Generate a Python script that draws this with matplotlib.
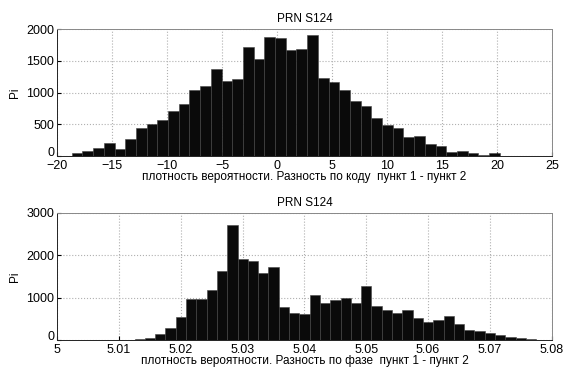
import numpy as np
import matplotlib.pyplot as plt
import matplotlib.transforms as mtransforms

# code difference, 40 bins
code_left = -18.66
code_width = 0.973
code_counts = [53, 79, 132, 210, 105, 263, 442, 500, 563, 710,
               816, 1047, 1100, 1368, 1179, 1210, 1721, 1537, 1879, 1868,
               1668, 1684, 1905, 1237, 1168, 1047, 863, 784, 605, 495,
               442, 295, 310, 195, 158, 58, 79, 42, 21, 42]

# phase difference, 40 bins
phase_left = 5.01254
phase_width = 0.001665
phase_counts = [15, 50, 140, 270, 540, 965, 965, 1180, 1625, 2715,
                1900, 1870, 1590, 1730, 770, 640, 600, 1065, 870, 950,
                1000, 875, 1270, 805, 715, 635, 695, 520, 425, 480,
                555, 385, 230, 208, 160, 115, 62, 39, 22, 8]

code_xticks = [-20, -15, -10, -5, 0, 5, 10, 15, 20, 25]
code_yticks = [0, 500, 1000, 1500, 2000]
phase_xticks = [5.0, 5.01, 5.02, 5.03, 5.04, 5.05, 5.06, 5.07, 5.08]
phase_xlabels = ['5', '5.01', '5.02', '5.03', '5.04', '5.05', '5.06', '5.07', '5.08']
phase_yticks = [0, 1000, 2000, 3000]

plt.rcParams['font.family'] = ['Liberation Sans Narrow', 'Liberation Sans', 'DejaVu Sans']
plt.rcParams['font.size'] = 8


def draw_hist(ax, left, width, counts, xlim, xticks, ylim, yticks, xlabel):
    edges = left + width * np.arange(len(counts))
    ax.bar(edges, counts, width=width, align='edge', color='#0a0a0a',
           edgecolor='#444444', linewidth=0.4, zorder=2)
    ax.set_xlim(xlim)
    ax.set_ylim(ylim)
    ax.set_xticks(xticks)
    ax.set_yticks(yticks)
    ax.grid(True, color='#b0b0b0', linestyle=':', linewidth=0.8, zorder=0)
    ax.set_axisbelow(True)
    ax.tick_params(direction='in', length=3, labelsize=9)
    ax.tick_params(axis='x', pad=3)
    ax.tick_params(axis='y', pad=2)
    for s in ['left', 'bottom']:
        ax.spines[s].set_color('#222222')
    for s in ['top', 'right']:
        ax.spines[s].set_color('#888888')
    for s in ax.spines.values():
        s.set_linewidth(0.7)
    ax.set_title('PRN S124', fontsize=8.5, pad=5)
    ax.set_xlabel(xlabel, fontsize=8.5, labelpad=-1)
    ax.set_ylabel('Pi', fontsize=8.5, labelpad=4)
    # lift the "0" y label a little so it clears the first x label
    lbl = ax.get_yticklabels()[0]
    lbl.set_transform(lbl.get_transform() +
                      mtransforms.ScaledTranslation(0, 3 / 72, ax.figure.dpi_scale_trans))


fig = plt.figure(figsize=(5.76, 3.69), dpi=100)

ax1 = fig.add_axes([0.099, 0.577, 0.859, 0.344])
draw_hist(ax1, code_left, code_width, code_counts, (-20, 25), code_xticks,
          (0, 2000), code_yticks,
          'плотность вероятности. Разность по коду  пункт 1 - пункт 2')

ax2 = fig.add_axes([0.099, 0.079, 0.859, 0.344])
draw_hist(ax2, phase_left, phase_width, phase_counts, (5.0, 5.08), phase_xticks,
          (0, 3000), phase_yticks,
          'плотность вероятности. Разность по фазе  пункт 1 - пункт 2')
ax2.set_xticklabels(phase_xlabels)

fig.savefig('out.png', dpi=100)
